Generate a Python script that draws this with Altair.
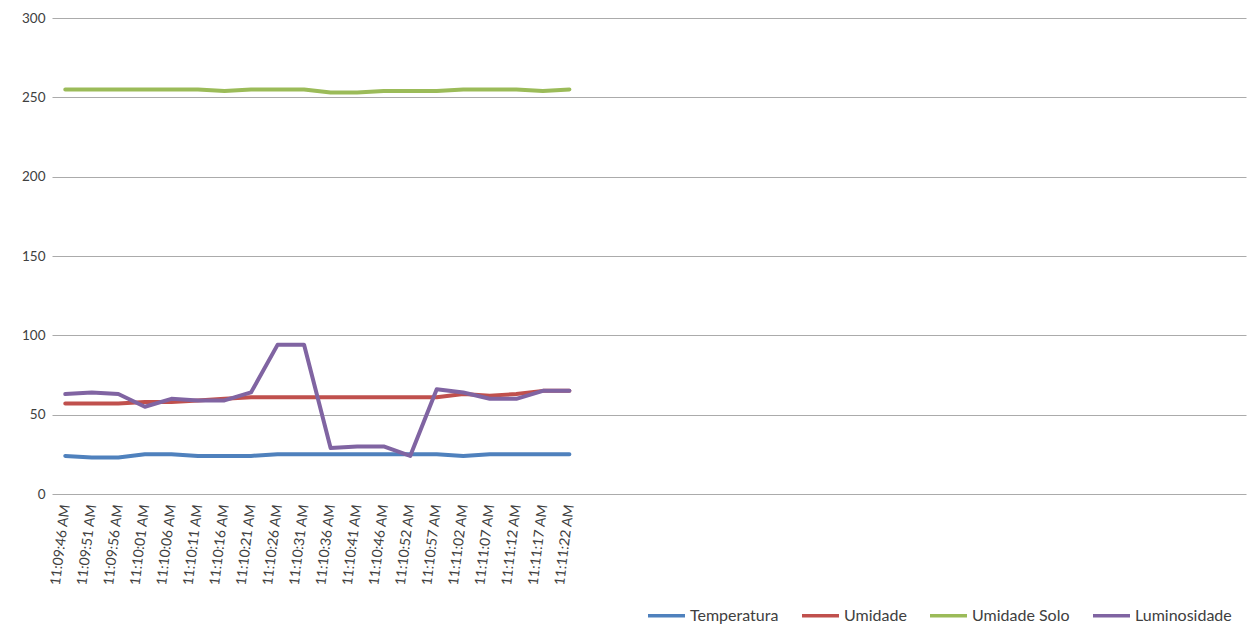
import altair as alt
import pandas as pd

times = ["11:09:46 AM", "11:09:51 AM", "11:09:56 AM", "11:10:01 AM", "11:10:06 AM",
         "11:10:11 AM", "11:10:16 AM", "11:10:21 AM", "11:10:26 AM", "11:10:31 AM",
         "11:10:36 AM", "11:10:41 AM", "11:10:46 AM", "11:10:52 AM", "11:10:57 AM",
         "11:11:02 AM", "11:11:07 AM", "11:11:12 AM", "11:11:17 AM", "11:11:22 AM"]
empty_slots = [f"_{i}" for i in range(25)]

temperatura = [24, 23, 23, 25, 25, 24, 24, 24, 25, 25, 25, 25, 25, 25, 25, 24, 25, 25, 25, 25]
umidade = [57, 57, 57, 58, 58, 59, 60, 61, 61, 61, 61, 61, 61, 61, 61, 63, 62, 63, 65, 65]
umidade_solo = [255, 255, 255, 255, 255, 255, 254, 255, 255, 255, 253, 253, 254, 254, 254, 255, 255, 255, 254, 255]
luminosidade = [63, 64, 63, 55, 60, 59, 59, 64, 94, 94, 29, 30, 30, 24, 66, 64, 60, 60, 65, 65]

series_names = ["Temperatura", "Umidade", "Umidade Solo", "Luminosidade"]
series_colors = ["#4F81BD", "#C0504D", "#9BBB59", "#8064A2"]
y_ticks = [0, 50, 100, 150, 200, 250, 300]

rows = []
for name, vals in zip(series_names, [temperatura, umidade, umidade_solo, luminosidade]):
    for t, v in zip(times, vals):
        rows.append({"Hora": t, "Valor": v, "Serie": name})
df = pd.DataFrame(rows)

FONT = "Lato"

x_enc = alt.X("Hora:N",
              scale=alt.Scale(domain=times + empty_slots, type="point", padding=0.5),
              axis=alt.Axis(title=None, labelAngle=277, labelAlign="right", labelBaseline="middle",
                            labelPadding=10, ticks=False, domain=False, grid=False,
                            labelFont=FONT, labelFontSize=14, labelColor="#404040",
                            labelOverlap=False,
                            labelExpr="indexof(datum.label, '_') == 0 ? '' : datum.label"))
y_enc = alt.Y("Valor:Q",
              scale=alt.Scale(domain=[0, 300], nice=False),
              axis=alt.Axis(title=None, values=y_ticks, ticks=False, domain=False,
                            labelPadding=7, labelFont=FONT, labelFontSize=13.5,
                            labelColor="#404040", gridColor="#ababab", gridWidth=1))
color_enc = alt.Color("Serie:N",
                      scale=alt.Scale(domain=series_names, range=series_colors),
                      legend=alt.Legend(title=None, orient="none", direction="horizontal",
                                        legendX=594, legendY=577, symbolType="stroke",
                                        symbolSize=1369, symbolStrokeWidth=3.5,
                                        labelFont=FONT, labelFontSize=16, labelColor="#404040",
                                        labelOffset=3, columnPadding=16, padding=0))

layers = []
for name in series_names:
    layers.append(
        alt.Chart(df).transform_filter(alt.datum.Serie == name)
        .mark_line(strokeWidth=4, strokeJoin="round", strokeCap="round")
        .encode(x=x_enc, y=y_enc, color=color_enc)
    )

chart = alt.layer(*layers).properties(
    width=1194, height=476,
    padding={"left": 44, "top": 10, "right": 2, "bottom": 130},
    autosize=alt.AutoSizeParams(type="none"),
    background="white",
).configure_view(stroke=None)

chart.save("out.html", embed_options={"renderer": "svg", "actions": False})
